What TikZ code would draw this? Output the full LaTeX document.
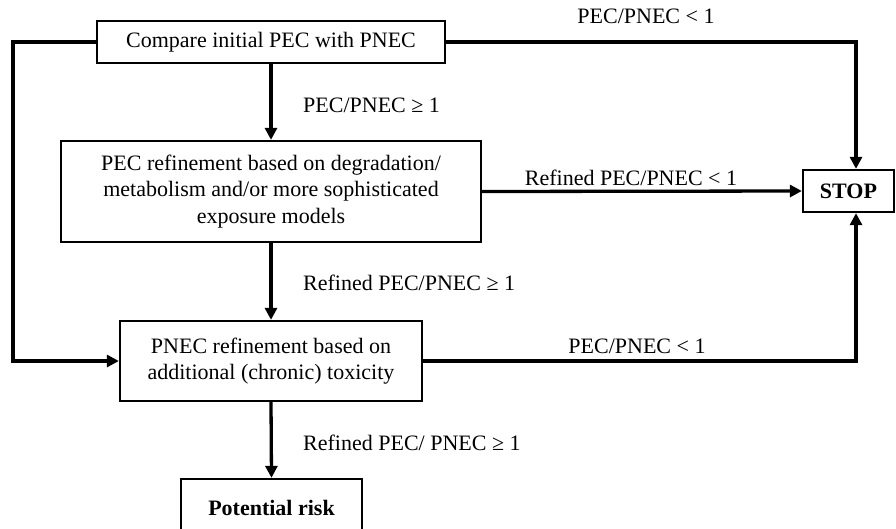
\documentclass[tikz,border=0pt]{standalone}
\usepackage{fontspec}
\setmainfont{Liberation Serif}
\usetikzlibrary{arrows.meta}
\begin{document}
\begin{tikzpicture}[x=1pt,y=-1pt,
  every node/.style={font=\fontsize{22}{26.5}\selectfont, inner sep=0pt},
  box/.style={draw, line width=2.3pt, align=center},
  flow/.style={line width=3.3pt, -{Triangle[length=12pt,width=12pt]}},
  lbl/.style={anchor=center}]
  \useasboundingbox (0,0) rectangle (896,528);
  \clip (0,0) rectangle (896,528);

  % boxes
  \node[box, minimum width=348pt, minimum height=42pt] (cmp) at (271,42) {Compare initial PEC with PNEC};
  \node[box, minimum width=420pt, minimum height=101pt] (pec) at (271,191.5)
    {PEC refinement based on degradation/\\metabolism and/or more sophisticated\\exposure models};
  \node[box, minimum width=302pt, minimum height=80pt] (pnec) at (271,361)
    {PNEC refinement based on\\additional (chronic) toxicity};
  \node[box, minimum width=181pt, minimum height=58pt] (risk) at (271.5,508) {\bfseries Potential risk};
  \node[box, minimum width=91pt, minimum height=42pt] (stop) at (848.5,191) {\bfseries STOP};

  % bend points
  \coordinate (tr) at (856,42);
  \coordinate (br) at (856,361);
  \coordinate (tl) at (13,42);
  \coordinate (bl) at (13,361);

  % connectors
  \draw[flow] (cmp.south) -- (pec.north);
  \draw[flow] (pec.south) -- (pnec.north);
  \draw[flow] (pnec.south) -- (risk.north);
  \draw[flow] (cmp.east) -- (tr) -- (tr |- stop.north);
  \draw[flow] (pec.east) -- (stop.west);
  \draw[flow] (pnec.east) -- (br) -- (br |- stop.south);
  \draw[flow] (cmp.west) -- (tl) -- (bl) -- (pnec.west);

  % labels
  \node[lbl] (l1) at (646,16) {PEC/PNEC < 1};
  \node[anchor=west] (l2) at (303,105) {PEC/PNEC ≥ 1};
  \node[lbl] (l3) at (631,178) {Refined PEC/PNEC < 1};
  \node[anchor=west] (l4) at (303,283) {Refined PEC/PNEC ≥ 1};
  \node[lbl] (l5) at (637,346) {PEC/PNEC < 1};
  \node[anchor=west] (l6) at (303,443) {Refined PEC/ PNEC ≥ 1};
\end{tikzpicture}
\end{document}
